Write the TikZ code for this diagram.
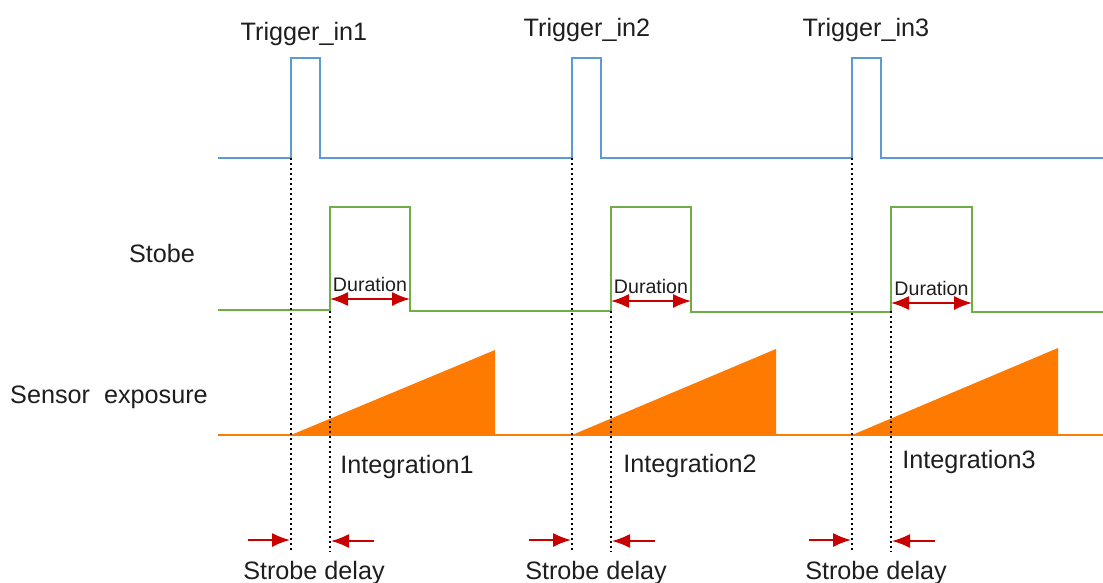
\documentclass[tikz,border=0pt]{standalone}
\usepackage{fontspec}
\setmainfont{Liberation Sans}
\usetikzlibrary{arrows.meta}
\definecolor{trig}{RGB}{91,155,213}
\definecolor{strb}{RGB}{112,173,71}
\definecolor{expo}{RGB}{255,122,0}
\definecolor{arr}{RGB}{200,0,0}
\definecolor{txt}{RGB}{30,30,30}
\begin{document}
\begin{tikzpicture}[x=0.5pt,y=-0.5pt,
  lbl/.style={inner sep=0pt,text=txt,font=\fontsize{12.6}{14}\selectfont},
  small/.style={inner sep=0pt,text=txt,font=\fontsize{9.8}{11}\selectfont},
  trigline/.style={draw=trig,line width=1pt},
  strbline/.style={draw=strb,line width=1pt},
  vdot/.style={draw=black,line width=1.1pt,dash pattern=on 1.1pt off 1.4pt},
  darr/.style={draw=arr,line width=0.8pt,{Latex[length=9pt,width=7pt]}-{Latex[length=9pt,width=7pt]}},
  sarr/.style={draw=arr,line width=0.8pt,-{Latex[length=9pt,width=7pt]}}]
\useasboundingbox (0,0) rectangle (1103,583);
% trigger
\draw[trigline] (218,158) -- (291,158) -- (291,58) -- (320,58) -- (320,158) -- (572,158) -- (572,58) -- (601,58) -- (601,158) -- (852,158) -- (852,58) -- (881,58) -- (881,158) -- (1103,158);
% strobe
\draw[strbline] (218,310) -- (330,310) -- (330,207) -- (410,207) -- (410,311) -- (611,311) -- (611,207) -- (691,207) -- (691,312) -- (891,312) -- (891,207) -- (972,207) -- (972,312) -- (1103,312);
% exposure
\draw[expo,line width=1pt] (218,435) -- (1103,435);
\fill[expo] (291,435) -- (495,350) -- (495,435) -- cycle;
\fill[expo] (572,435) -- (776,349) -- (776,435) -- cycle;
\fill[expo] (852,435) -- (1058,348) -- (1058,435) -- cycle;
% dotted
\foreach \a/\b in {291/330,572/611,852/891}{
  \draw[vdot] (\a,158) -- (\a,550);
  \draw[vdot] (\b,311) -- (\b,552);
}
% labels
\node[lbl] (t1) at (304,34) {Trigger\_in1};
\node[lbl] (t2) at (587,30) {Trigger\_in2};
\node[lbl] (t3) at (866,30) {Trigger\_in3};
\node[lbl] (stobe) at (162,253) {Stobe};
\node[lbl] (sens) at (109,397) {Sensor\ \ exposure};
\node[lbl] (i1) at (407,467) {Integration1};
\node[lbl] (i2) at (690,466) {Integration2};
\node[lbl] (i3) at (969,462) {Integration3};
\node[lbl] (s1) at (314,573) {Strobe delay};
\node[lbl] (s2) at (596,573) {Strobe delay};
\node[lbl] (s3) at (876,573) {Strobe delay};
% durations
\foreach \n/\a/\b/\y in {1/330/410/299,2/611/691/301,3/891/972/303}{
  \coordinate (da\n) at (\a,\y);
  \coordinate (db\n) at (\b,\y);
  \node[small] (d\n) at ({(\a+\b)/2},{\y-15}) {Duration};
  \draw[darr] (da\n) -- (db\n);
}
% strobe delay arrows
\foreach \n/\a/\b in {1/291/330,2/572/611,3/852/891}{
  \coordinate (la\n) at ({\a-43},540);
  \coordinate (lb\n) at ({\a-1},540);
  \coordinate (ra\n) at ({\b+44},541);
  \coordinate (rb\n) at ({\b+1},541);
  \draw[sarr] (la\n) -- (lb\n);
  \draw[sarr] (ra\n) -- (rb\n);
}
\end{tikzpicture}
\end{document}
